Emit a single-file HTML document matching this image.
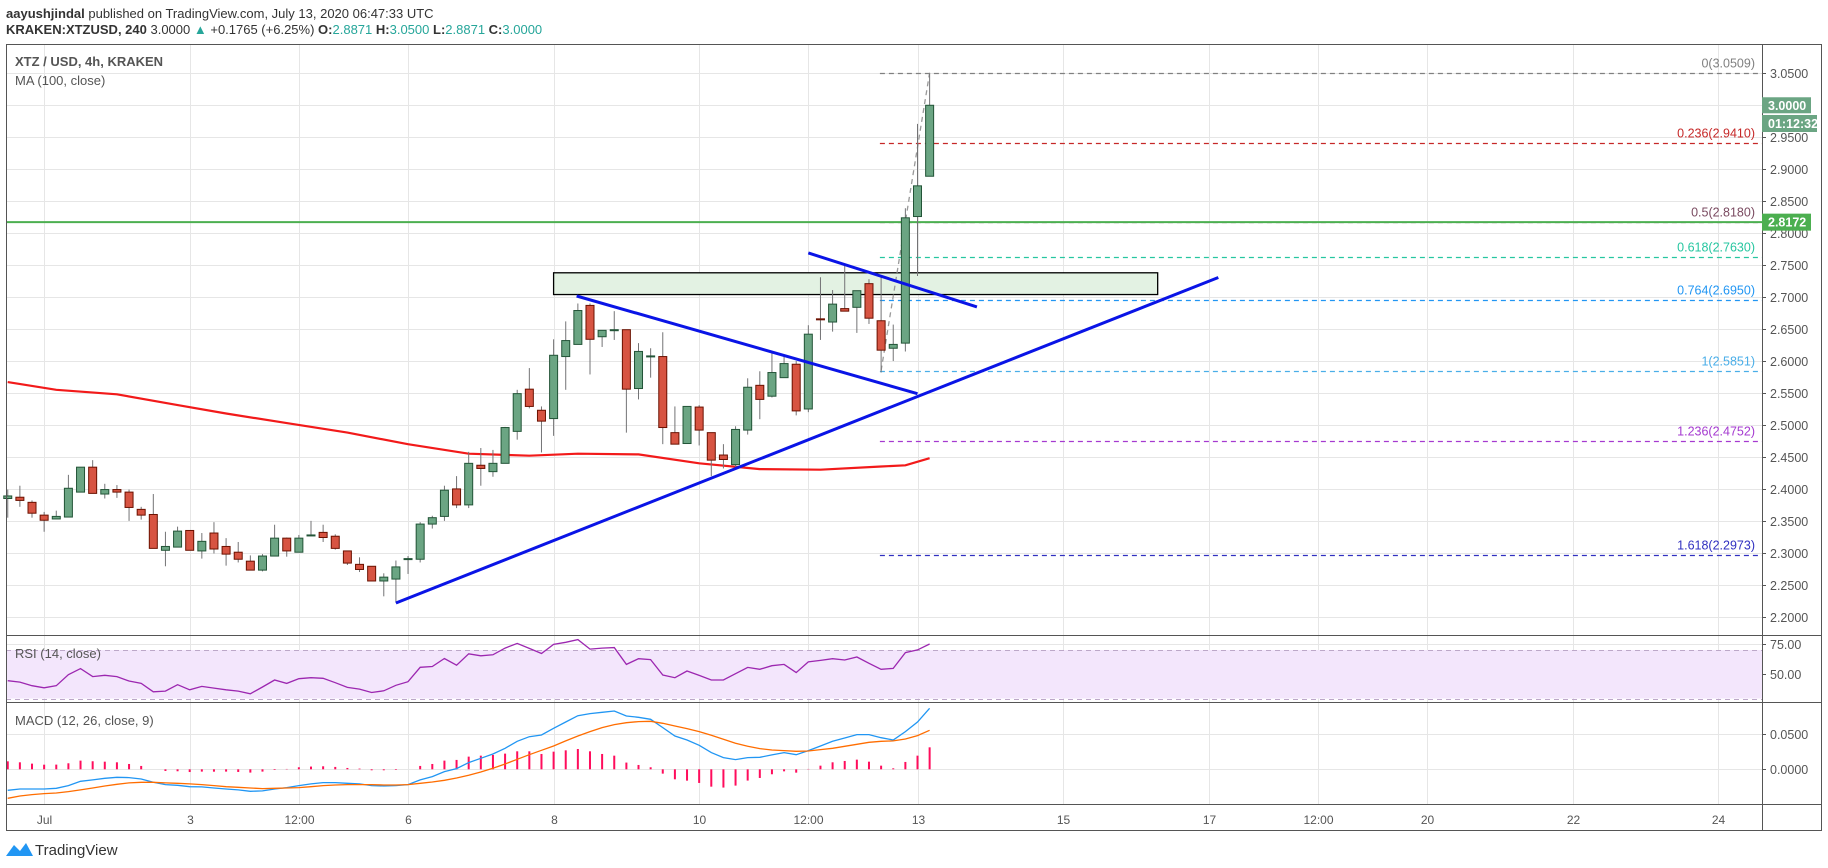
<!DOCTYPE html>
<html><head><meta charset="utf-8"><style>
html,body{margin:0;padding:0;background:#fff;}
svg{display:block;font-family:"Liberation Sans",sans-serif;}
</style></head><body>
<svg id="c" width="1828" height="868" viewBox="0 0 1828 868" xmlns="http://www.w3.org/2000/svg">
<text x="6" y="18" font-size="13" fill="#333"><tspan font-weight="bold">aayushjindal</tspan> published on TradingView.com, July 13, 2020 06:47:33 UTC</text>
<text x="6" y="34" font-size="13" fill="#333"><tspan font-weight="bold">KRAKEN:XTZUSD, 240</tspan> 3.0000 <tspan fill="#26a69a">▲</tspan> +0.1765 (+6.25%) <tspan font-weight="bold">O:</tspan><tspan fill="#26a69a">2.8871</tspan> <tspan font-weight="bold">H:</tspan><tspan fill="#26a69a">3.0500</tspan> <tspan font-weight="bold">L:</tspan><tspan fill="#26a69a">2.8871</tspan> <tspan font-weight="bold">C:</tspan><tspan fill="#26a69a">3.0000</tspan></text>
<g id="grid"></g>
<rect x="6" y="650" width="1756" height="48.5" fill="#f3e6fc"/>
<g id="marks"></g>
<g id="frame" fill="none" stroke="#555" stroke-width="1">
<rect x="6.5" y="44.5" width="1815" height="786"/>
<line x1="6" y1="635.5" x2="1822" y2="635.5"/>
<line x1="6" y1="702.5" x2="1822" y2="702.5"/>
<line x1="6" y1="804.5" x2="1822" y2="804.5"/>
<line x1="1762.5" y1="44" x2="1762.5" y2="831"/>
</g>
<g id="labels"></g>
<text x="15" y="66" font-size="13" font-weight="bold" fill="#555">XTZ / USD, 4h, KRAKEN</text>
<text x="15" y="85" font-size="13" fill="#555">MA (100, close)</text>
<text x="15" y="658" font-size="13" fill="#555">RSI (14, close)</text>
<text x="15" y="725" font-size="13" fill="#555">MACD (12, 26, close, 9)</text>
<g>
<path d="M6 856 L14 845 L20 851 L26 843 L33 856 Z" fill="#2196f3"/>
<text x="35" y="855" font-size="15" fill="#333">TradingView</text>
</g>
</svg>
<script>
const opens=[2.385,2.387,2.379,2.359,2.353,2.356,2.395,2.434,2.392,2.399,2.395,2.368,2.360,2.304,2.309,2.335,2.303,2.331,2.310,2.301,2.287,2.273,2.295,2.323,2.301,2.327,2.332,2.326,2.303,2.282,2.279,2.256,2.259,2.290,2.290,2.345,2.357,2.400,2.375,2.437,2.427,2.440,2.490,2.556,2.523,2.510,2.607,2.626,2.687,2.638,2.648,2.649,2.557,2.607,2.607,2.488,2.471,2.528,2.488,2.453,2.438,2.492,2.562,2.545,2.574,2.595,2.525,2.666,2.661,2.682,2.684,2.721,2.663,2.620,2.628,2.826,2.889];
const highs=[2.399,2.405,2.382,2.364,2.366,2.422,2.434,2.445,2.408,2.406,2.399,2.372,2.392,2.333,2.341,2.335,2.331,2.348,2.323,2.317,2.296,2.298,2.344,2.324,2.328,2.350,2.344,2.329,2.303,2.293,2.279,2.268,2.288,2.295,2.348,2.358,2.405,2.420,2.458,2.464,2.461,2.497,2.555,2.589,2.529,2.634,2.662,2.690,2.690,2.648,2.678,2.649,2.628,2.620,2.645,2.529,2.529,2.531,2.488,2.470,2.498,2.573,2.584,2.614,2.607,2.600,2.656,2.731,2.711,2.749,2.710,2.728,2.731,2.657,2.839,2.971,3.050];
const lows=[2.355,2.372,2.355,2.333,2.353,2.356,2.395,2.393,2.385,2.386,2.350,2.352,2.307,2.279,2.309,2.304,2.291,2.299,2.280,2.285,2.273,2.271,2.295,2.294,2.301,2.327,2.317,2.305,2.281,2.270,2.256,2.232,2.222,2.267,2.285,2.338,2.350,2.370,2.370,2.405,2.419,2.440,2.477,2.526,2.457,2.483,2.555,2.626,2.579,2.622,2.633,2.488,2.540,2.574,2.470,2.470,2.471,2.468,2.420,2.432,2.433,2.485,2.509,2.543,2.574,2.515,2.520,2.633,2.646,2.678,2.644,2.658,2.582,2.600,2.615,2.733,2.889];
const closes=[2.389,2.382,2.362,2.351,2.357,2.401,2.434,2.393,2.399,2.395,2.371,2.359,2.307,2.310,2.334,2.304,2.318,2.306,2.298,2.290,2.273,2.295,2.323,2.303,2.323,2.328,2.324,2.307,2.284,2.274,2.256,2.262,2.278,2.291,2.345,2.355,2.398,2.375,2.440,2.432,2.440,2.496,2.549,2.529,2.506,2.609,2.632,2.679,2.634,2.648,2.649,2.556,2.615,2.608,2.496,2.470,2.529,2.492,2.445,2.446,2.493,2.559,2.540,2.582,2.596,2.522,2.642,2.665,2.689,2.678,2.710,2.667,2.617,2.626,2.824,2.874,3.000];
const maIndex=[0,4,9,14,18,23,28,33,38,43,47,52,57,62,67,72,74,76];
const maValues=[2.567,2.555,2.548,2.531,2.518,2.503,2.488,2.470,2.455,2.452,2.455,2.454,2.440,2.431,2.430,2.435,2.437,2.448];
const rsiValues=[44.7,43.6,40.6,38.9,40.6,49.7,54.7,48.1,49.2,48.1,44.5,42.5,35.6,36.1,41.4,37.2,40.0,38.6,37.2,36.1,33.9,39.5,45.3,42.5,46.4,47.2,46.7,43.1,39.2,37.8,35.0,36.4,40.9,43.9,55.8,56.4,63.0,57.5,66.9,65.3,66.1,71.6,75.5,71.4,67.2,74.7,76.4,78.6,70.8,71.6,72.0,58.2,62.9,62.1,49.4,47.2,52.7,49.1,45.3,45.3,50.5,55.7,54.1,57.1,58.2,51.4,60.2,61.5,62.9,61.8,64.3,59.1,54.1,54.9,67.9,70.1,75.0];
const macdValues=[-0.0300,-0.0281,-0.0281,-0.0281,-0.0271,-0.0233,-0.0171,-0.0152,-0.0129,-0.0114,-0.0119,-0.0138,-0.0186,-0.0219,-0.0228,-0.0248,-0.0252,-0.0267,-0.0281,-0.0295,-0.0314,-0.0309,-0.0281,-0.0262,-0.0233,-0.0209,-0.0190,-0.0190,-0.0200,-0.0209,-0.0233,-0.0238,-0.0233,-0.0219,-0.0152,-0.0105,-0.0033,0.0010,0.0095,0.0157,0.0219,0.0300,0.0400,0.0466,0.0490,0.0585,0.0676,0.0766,0.0795,0.0814,0.0833,0.0762,0.0743,0.0714,0.0595,0.0476,0.0419,0.0343,0.0238,0.0167,0.0138,0.0167,0.0171,0.0205,0.0238,0.0209,0.0267,0.0333,0.0400,0.0447,0.0495,0.0495,0.0452,0.0419,0.0538,0.0676,0.0871];
const signalValues=[-0.0414,-0.0381,-0.0362,-0.0347,-0.0338,-0.0319,-0.0295,-0.0267,-0.0238,-0.0214,-0.0195,-0.0186,-0.0186,-0.0195,-0.0200,-0.0209,-0.0219,-0.0233,-0.0248,-0.0257,-0.0267,-0.0276,-0.0271,-0.0267,-0.0262,-0.0248,-0.0233,-0.0224,-0.0219,-0.0219,-0.0219,-0.0224,-0.0224,-0.0219,-0.0200,-0.0181,-0.0157,-0.0124,-0.0086,-0.0038,0.0014,0.0076,0.0143,0.0209,0.0271,0.0333,0.0405,0.0476,0.0538,0.0595,0.0638,0.0666,0.0681,0.0685,0.0657,0.0619,0.0581,0.0538,0.0486,0.0428,0.0371,0.0328,0.0295,0.0276,0.0267,0.0257,0.0262,0.0281,0.0300,0.0328,0.0357,0.0386,0.0400,0.0405,0.0433,0.0481,0.0557];
const priceTicks=["3.0500","3.0000","2.9500","2.9000","2.8500","2.8000","2.7500","2.7000","2.6500","2.6000","2.5500","2.5000","2.4500","2.4000","2.3500","2.3000","2.2500","2.2000"];
const timeLabels=["Jul","3","12:00","6","8","10","12:00","13","15","17","12:00","20","22","24"];
const timeLabelIndex=[3,15,24,33,45,57,66,75,87,99,108,117,129,141];
const fibLevels=["0","0.236","0.5","0.618","0.764","1","1.236","1.618"];
const fibPrices=[3.0509,2.9410,2.8180,2.7630,2.6950,2.5851,2.4752,2.2973];
const fibColors=["#808080","#c62828","#7a4a60","#26c6a0","#2196f3","#4aaee8","#a53ad0","#3030c0"];
const trendLines=[[32.0,2.2216,99.8,2.7307],[46.9,2.7017,75.0,2.5489],[66.0,2.769,79.9,2.6846]];
const zoneBox=[45.0,2.738,94.8,2.704];
const supportPrice=2.8172;

const NS="http://www.w3.org/2000/svg";
const xS=i=>917.5+(i-75)*12.13;
const yP=p=>73.3+(3.05-p)*639.4;
const yR=r=>674.3-(r-50)*1.212;
const yM=v=>769.3-v*700;
function mk(parent,tag,attrs){const e=document.createElementNS(NS,tag);for(const k in attrs)e.setAttribute(k,attrs[k]);parent.appendChild(e);return e;}
const grid=document.getElementById('grid'),marks=document.getElementById('marks'),labels=document.getElementById('labels');

timeLabelIndex.forEach((ti,k)=>{const x=Math.round(xS(ti))+0.5;
  const g=mk(grid,'line',{x1:x,y1:44,x2:x,y2:804,stroke:'#e6e6e6'});
  
  
  const t=mk(labels,'text',{x:x,y:824,'font-size':12,fill:'#555','text-anchor':'middle'});t.textContent=timeLabels[k];
  
  
});
priceTicks.forEach(s=>{const y=Math.round(yP(parseFloat(s)))+0.5;
  const g=mk(grid,'line',{x1:6,y1:y,x2:1762,y2:y,stroke:'#e6e6e6'});
  
  
  mk(labels,'line',{x1:1762,y1:y,x2:1766,y2:y,stroke:'#555'});
  const t=mk(labels,'text',{x:1770,y:y+4.5,'font-size':12.5,fill:'#555'});t.textContent=s;
  
  
});
[[75,'75.00'],[50,'50.00']].forEach(([r,s])=>{const y=Math.round(yR(r))+0.5;
  mk(grid,'line',{x1:6,y1:y,x2:1762,y2:y,stroke:'#e6e6e6'});
  mk(labels,'line',{x1:1762,y1:y,x2:1766,y2:y,stroke:'#555'});
  const t=mk(labels,'text',{x:1770,y:y+4.5,'font-size':12.5,fill:'#555'});t.textContent=s;
  
  
});
[[0.05,'0.0500'],[0,'0.0000']].forEach(([v,s])=>{const y=Math.round(yM(v))+0.5;
  mk(grid,'line',{x1:6,y1:y,x2:1762,y2:y,stroke:'#e6e6e6'});
  mk(labels,'line',{x1:1762,y1:y,x2:1766,y2:y,stroke:'#555'});
  const t=mk(labels,'text',{x:1770,y:y+4.5,'font-size':12.5,fill:'#555'});t.textContent=s;
  
  
});
[70,30].forEach(r=>{const y=Math.round(yR(r))+0.5;mk(marks,'line',{x1:6,y1:y,x2:1762,y2:y,stroke:'#bca8c8','stroke-dasharray':'5 4'});});

const zb=mk(marks,'rect',{x:xS(zoneBox[0]),y:yP(zoneBox[1]),width:xS(zoneBox[2])-xS(zoneBox[0]),height:yP(zoneBox[3])-yP(zoneBox[1]),fill:'#e3f2e3',stroke:'#000','stroke-width':1.3});



fibPrices.forEach((p,k)=>{const y=Math.round(yP(p))+0.5;
  const l=mk(marks,'line',{x1:xS(71.9),y1:y,x2:1762,y2:y,stroke:fibColors[k],'stroke-width':1.3,'stroke-dasharray':'5 4'});
  
  
  const t=mk(labels,'text',{x:1755,y:y-6,'font-size':12.5,fill:fibColors[k],'text-anchor':'end'});t.textContent=fibLevels[k]+'('+p.toFixed(4)+')';
  
  
});
const diag=mk(marks,'line',{x1:xS(72),y1:yP(fibPrices[5]),x2:xS(76),y2:yP(fibPrices[0]),stroke:'#999','stroke-width':1.3,'stroke-dasharray':'5 4'});



const sy=yP(supportPrice);
const sl=mk(marks,'line',{x1:6,y1:sy,x2:1762,y2:sy,stroke:'#4caf50','stroke-width':2});



let d='';maIndex.forEach((ix,k)=>{d+=(k?'L':'M')+xS(ix).toFixed(1)+' '+yP(maValues[k]).toFixed(1);});
const ma=mk(marks,'path',{d:d,fill:'none',stroke:'#f21a1a','stroke-width':2.2});



for(let i=0;i<opens.length;i++){const x=xS(i),up=closes[i]>=opens[i];
  const g=mk(marks,'g',{});
  
  
  mk(g,'line',{x1:x,y1:yP(highs[i]),x2:x,y2:yP(lows[i]),stroke:'#737375','stroke-width':1});
  const t=yP(Math.max(opens[i],closes[i])),b=yP(Math.min(opens[i],closes[i]));
  mk(g,'rect',{x:x-4,y:t,width:8,height:Math.max(b-t,1),fill:up?'#6ba583':'#d75442',stroke:up?'#225437':'#6b1100','stroke-width':1});
}

trendLines.forEach(tl=>{const l=mk(marks,'line',{x1:xS(tl[0]),y1:yP(tl[1]),x2:xS(tl[2]),y2:yP(tl[3]),stroke:'#0a14e6','stroke-width':3});
  
  });

d='';rsiValues.forEach((r,i)=>{d+=(i?'L':'M')+xS(i).toFixed(1)+' '+yR(r).toFixed(1);});
const rl=mk(marks,'path',{d:d,fill:'none',stroke:'#9c27b0','stroke-width':1.3});



macdValues.forEach((m,i)=>{const h=m-signalValues[i];const y0=yM(0),y1=yM(h);
  const b=mk(marks,'rect',{x:xS(i)-1,y:Math.min(y0,y1),width:2,height:Math.abs(y1-y0),fill:'#ff0d5c'});
  
  });
d='';macdValues.forEach((m,i)=>{d+=(i?'L':'M')+xS(i).toFixed(1)+' '+yM(m).toFixed(1);});
const ml=mk(marks,'path',{d:d,fill:'none',stroke:'#2196f3','stroke-width':1.3});


d='';signalValues.forEach((m,i)=>{d+=(i?'L':'M')+xS(i).toFixed(1)+' '+yM(m).toFixed(1);});
const sg=mk(marks,'path',{d:d,fill:'none',stroke:'#ff6d00','stroke-width':1.3});



function tag(y,w,h,fill,text,name){const g=mk(labels,'g',{});
  
  
  mk(g,'rect',{x:1762,y:y,width:w,height:h,fill:fill});
  const t=mk(g,'text',{x:1768,y:y+h/2+4.5,'font-size':12.5,'font-weight':'bold',fill:'#fff'});t.textContent=text;}
tag(yP(closes[76])-8,49,16,'#6ba583',closes[76].toFixed(4),'last-price-tag');
tag(115,55,17,'#6ba583','01:12:32','countdown-tag');
tag(sy-8.5,49,17,'#4caf50',supportPrice.toFixed(4),'support-price-tag');
</script>
</body></html>
